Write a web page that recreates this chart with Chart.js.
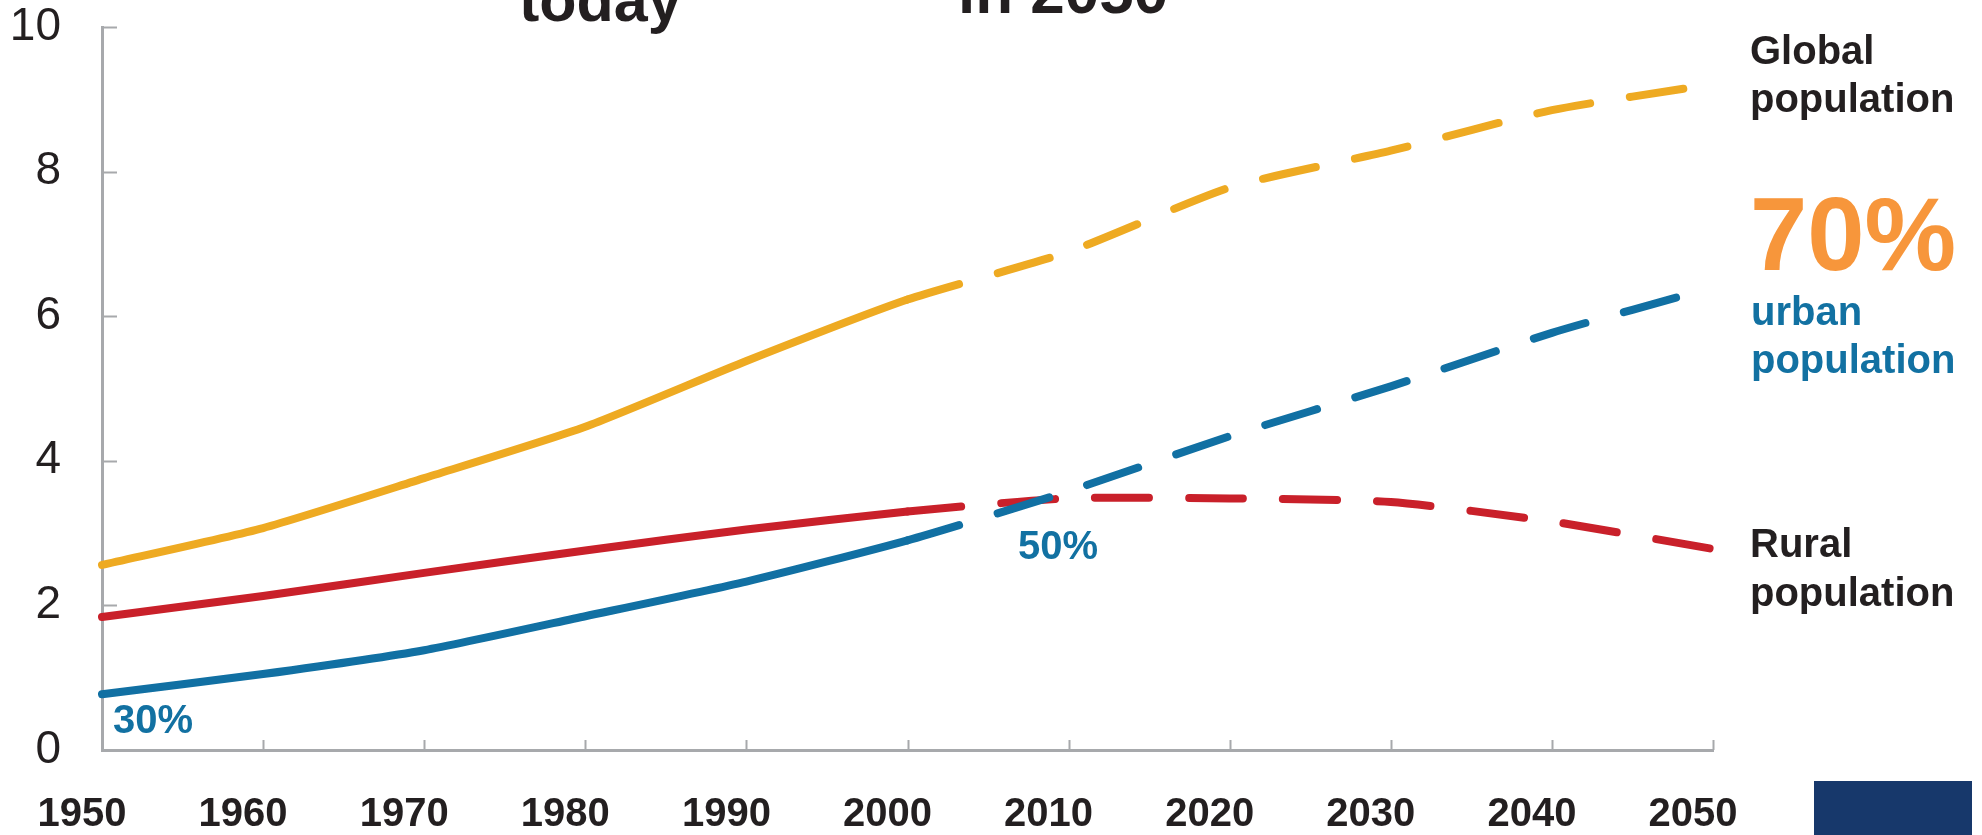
<!DOCTYPE html>
<html>
<head>
<meta charset="utf-8">
<script src="https://cdn.jsdelivr.net/npm/chart.js@4/dist/chart.umd.min.js"></script>
<style>
  body { margin: 0; background: #fff; }
  #wrap { width: 1982px; height: 835px; position: relative; }
</style>
</head>
<body>
<div id="wrap"><canvas id="popChart"></canvas></div>
<script>
const years = ['1950', '1960', '1970', '1980', '1990', '2000', '2010', '2020', '2030', '2040', '2050'];
// billions of people
const globalPop = [2.56, 3.07, 3.76, 4.47, 5.38, 6.23, 6.89, 7.78, 8.29, 8.85, 9.21];
const ruralPop = [1.84, 2.13, 2.45, 2.76, 3.05, 3.30, 3.48, 3.48, 3.43, 3.16, 2.78];
const urbanPop = [0.77, 1.05, 1.38, 1.85, 2.33, 2.90, 3.58, 4.34, 5.03, 5.77, 6.40];
const yTicks = [0, 2, 4, 6, 8, 10];
const projectionFrom = years.indexOf('2000');

const dark = '#231f20';
const axisGrey = '#a7a9ac';
const font = "'Liberation Sans', Arial, sans-serif";

function line(label, data, color) {
  return {
    label: label,
    data: data,
    borderColor: color,
    borderWidth: 8,
    borderCapStyle: 'round',
    borderJoinStyle: 'round',
    pointRadius: 0,
    tension: 0.2,
    segment: {
      borderDash: ctx => ctx.p0DataIndex >= projectionFrom ? [54, 40] : undefined,
    },
  };
}

// small inward ticks plus the text notes round the plot
const extras = {
  id: 'extras',
  afterDraw(chart) {
    const c = chart.ctx;
    const x = chart.scales.x, y = chart.scales.y;
    const area = chart.chartArea;
    c.save();
    c.strokeStyle = axisGrey;
    c.lineWidth = 2;
    c.beginPath();
    years.forEach((yr, i) => {
      const px = Math.round(x.getPixelForValue(i)) + 0.5;
      c.moveTo(px, area.bottom);
      c.lineTo(px, area.bottom - 10);
    });
    yTicks.forEach(v => {
      const py = Math.round(y.getPixelForValue(v)) + 0.5;
      c.moveTo(area.left, py);
      c.lineTo(area.left + 15, py);
    });
    c.stroke();

    c.textAlign = 'left';
    c.textBaseline = 'alphabetic';
    c.fillStyle = dark;
    c.font = 'bold 61px ' + font;
    c.fillText('today', 519, 21);
    c.font = 'bold 62px ' + font;
    c.fillText('in 2050', 958, 13);

    c.font = 'bold 40px ' + font;
    c.fillText('Global', 1750, 64);
    c.fillText('population', 1750, 112);
    c.fillText('Rural', 1750, 557);
    c.fillText('population', 1750, 606);

    c.fillStyle = '#f7963b';
    c.font = 'bold 103px ' + font;
    c.fillText('70%', 1750, 270);

    c.fillStyle = '#1271a2';
    c.font = 'bold 40px ' + font;
    c.fillText('urban', 1751, 325);
    c.fillText('population', 1751, 373);
    c.fillText('30%', 113, 733);
    c.fillText('50%', 1018, 559);

    c.fillStyle = '#17386b';
    c.fillRect(1814, 781, 158, 54);
    c.restore();
  }
};

new Chart(document.getElementById('popChart'), {
  type: 'line',
  data: {
    labels: years,
    datasets: [
      line('Urban population', urbanPop, '#1170a3'),
      line('Rural population', ruralPop, '#c9202a'),
      line('Global population', globalPop, '#eeaa22'),
    ],
  },
  options: {
    responsive: true,
    maintainAspectRatio: false,
    animation: false,
    layout: { padding: { top: 27, right: 269, left: 0, bottom: 0 } },
    plugins: {
      legend: { display: false },
      tooltip: { enabled: false },
      title: { display: false },
    },
    scales: {
      x: {
        type: 'category',
        offset: false,
        grid: { display: false, drawTicks: false },
        border: { display: true, color: axisGrey, width: 3 },
        ticks: {
          color: dark,
          font: { family: font, size: 40, weight: 'bold', lineHeight: 1.2 },
          padding: 41,
          labelOffset: -20,
          maxRotation: 0,
          autoSkip: false,
        },
        afterFit: s => { s.height = 85; s.paddingLeft = 0; s.paddingRight = 0; },
      },
      y: {
        min: 0,
        max: 10,
        grid: { display: false, drawTicks: false },
        border: { display: true, color: axisGrey, width: 3 },
        afterBuildTicks: s => { s.ticks = yTicks.map(v => ({ value: v })); },
        ticks: {
          color: dark,
          font: { family: font, size: 46, lineHeight: 1.2 },
          padding: 41,
        },
        afterFit: s => { s.width = 102; s.paddingTop = 0; s.paddingBottom = 0; },
      },
    },
  },
  plugins: [extras],
});
</script>
</body>
</html>
